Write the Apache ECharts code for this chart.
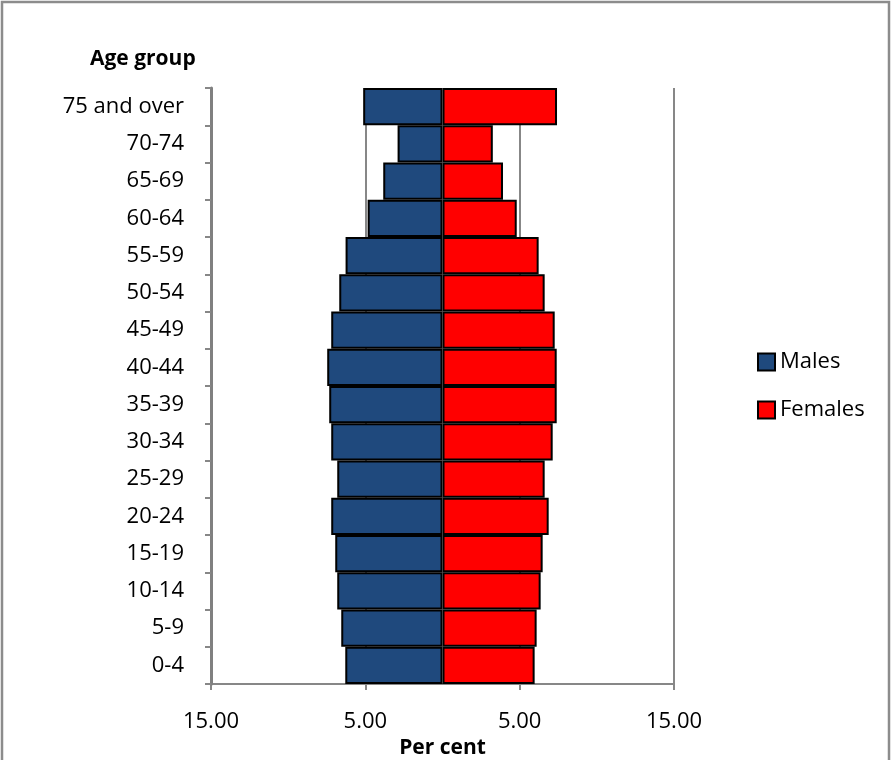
<!DOCTYPE html>
<html>
<head>
<meta charset="utf-8">
<script src="https://cdn.jsdelivr.net/npm/echarts@6/dist/echarts.min.js"></script>
<style>
  html, body { margin: 0; padding: 0; background: #ffffff; }
  #chart { width: 892px; height: 760px; }
</style>
</head>
<body>
<div id="chart"></div>
<script>
// Age groups, youngest first (the category axis runs bottom to top)
const ageGroups = ['0-4', '5-9', '10-14', '15-19', '20-24', '25-29', '30-34', '35-39',
  '40-44', '45-49', '50-54', '55-59', '60-64', '65-69', '70-74', '75 and over'];

// Share of the population, per cent
const males   = [6.30, 6.56, 6.82, 6.95, 7.21, 6.82, 7.21, 7.34, 7.47, 7.21, 6.69, 6.28, 4.85, 3.84, 2.91, 5.14];
const females = [5.97, 6.10, 6.36, 6.49, 6.88, 6.62, 7.14, 7.40, 7.40, 7.27, 6.62, 6.23, 4.81, 3.92, 3.26, 7.42];

// Percentage axis: males drawn to the left of zero
const xMin = -15;
const xMax = 15;
const xStep = 10;

const FONT = '"Open Sans", "Noto Sans", sans-serif';
const AXIS_GREY = '#878787';

const chart = echarts.init(document.getElementById('chart'), null, { renderer: 'canvas' });

chart.setOption({
  backgroundColor: '#ffffff',
  animation: false,
  textStyle: { fontFamily: FONT, color: '#000000' },
  graphic: [
    {
      type: 'rect',
      shape: { x: 2, y: 2, width: 887, height: 800 },
      style: { fill: 'none', stroke: '#8c8c8c', lineWidth: 2.5 },
      silent: true
    },
    {
      // Title of the category axis
      type: 'text',
      left: 90,
      top: 49,
      style: { text: 'Age group', font: 'bold 21px ' + FONT, fill: '#000000' },
      silent: true
    }
  ],
  grid: { left: 211, right: 218, top: 88, bottom: 76, containLabel: false, outerBoundsMode: 'none' },
  legend: {
    orient: 'vertical',
    left: 752,
    top: 346,
    icon: 'rect',
    itemWidth: 17,
    itemHeight: 17,
    itemGap: 26,
    textStyle: { fontFamily: FONT, fontSize: 22, color: '#000000' },
    data: [
      { name: 'Males', itemStyle: { color: '#1f497d', borderColor: '#000000', borderWidth: 2 } },
      { name: 'Females', itemStyle: { color: '#ff0000', borderColor: '#000000', borderWidth: 2 } }
    ]
  },
  xAxis: {
    type: 'value',
    min: xMin,
    max: xMax,
    interval: xStep,
    name: 'Per cent',
    nameLocation: 'middle',
    nameGap: 53,
    nameTextStyle: { fontFamily: FONT, fontSize: 21, fontWeight: 'bold', color: '#000000' },
    axisLine: { show: true, lineStyle: { color: AXIS_GREY, width: 2 } },
    axisTick: { show: true, length: 6, inside: false, lineStyle: { color: AXIS_GREY, width: 2 } },
    axisLabel: {
      fontFamily: FONT, fontSize: 22, color: '#000000', margin: 27,
      formatter: v => Math.abs(v).toFixed(2)
    },
    splitLine: { show: true, showMinLine: true, showMaxLine: true, lineStyle: { color: AXIS_GREY, width: 2 } }
  },
  yAxis: {
    type: 'category',
    data: ageGroups,
    z: 5,
    axisLine: { show: true, onZero: false, lineStyle: { color: '#808080', width: 3 } },
    axisTick: { show: true, length: 6, alignWithLabel: false, lineStyle: { color: AXIS_GREY, width: 2 } },
    axisLabel: { fontFamily: FONT, fontSize: 22, color: '#000000', margin: 27, padding: [5, 0, 0, 0] },
    splitLine: { show: false }
  },
  series: [
    {
      name: 'Males',
      type: 'bar',
      data: males.map(v => -v),
      barWidth: '100%',
      barGap: '-100%',
      itemStyle: { color: '#1f497d', borderColor: '#000000', borderWidth: 2 }
    },
    {
      name: 'Females',
      type: 'bar',
      data: females,
      barWidth: '100%',
      barGap: '-100%',
      itemStyle: { color: '#ff0000', borderColor: '#000000', borderWidth: 2 }
    }
  ]
});
</script>
</body>
</html>
